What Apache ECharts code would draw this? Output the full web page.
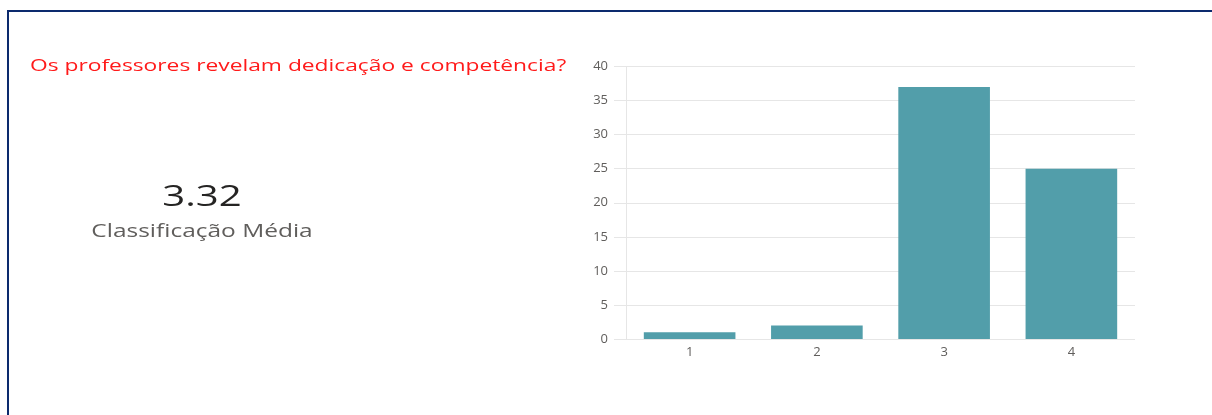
<!DOCTYPE html>
<html><head><meta charset="utf-8">
<script src="https://cdn.jsdelivr.net/npm/echarts@6/dist/echarts.min.js"></script>
<style>html,body{margin:0;padding:0;background:#fff;}#c{width:1212px;height:415px;}</style>
</head><body><div id="c"></div>
<script>
const question = "Os professores revelam dedicação e competência?";
const averageValue = "3.32";
const averageLabel = "Classificação Média";
const categories = ["1", "2", "3", "4"];
const counts = [1, 2, 37, 25];
const yTicks = [0, 5, 10, 15, 20, 25, 30, 35, 40];

const stretch = 1.34;
const chart = echarts.init(document.getElementById('c'));
chart.setOption({
  animation: false,
  backgroundColor: '#ffffff',
  graphic: [
    { type: 'line', shape: { x1: 8, y1: 11, x2: 1212, y2: 11 }, style: { stroke: '#0c2a6d', lineWidth: 2 } },
    { type: 'line', shape: { x1: 8, y1: 10, x2: 8, y2: 415 }, style: { stroke: '#0c2a6d', lineWidth: 2 } },
    { type: 'text', x: 30, y: 66, scaleX: stretch,
      style: { text: question, fill: '#ff1a1a', font: '17px "Open Sans"', textAlign: 'left', textVerticalAlign: 'middle' } },
    { type: 'text', x: 202, y: 197, scaleX: stretch,
      style: { text: averageValue, fill: '#252423', font: '30px "Open Sans"', textAlign: 'center', textVerticalAlign: 'middle' } },
    { type: 'text', x: 202, y: 232, scaleX: 1.36,
      style: { text: averageLabel, fill: '#605e5c', font: '18px "Open Sans"', textAlign: 'center', textVerticalAlign: 'middle' } }
  ],
  grid: { left: 626, right: 77, top: 66.5, bottom: 76, containLabel: false },
  xAxis: {
    type: 'category', data: categories,
    axisLine: { show: false }, axisTick: { show: false },
    axisLabel: { color: '#605e5c', fontSize: 13, fontFamily: 'Open Sans', margin: 7 }
  },
  yAxis: {
    type: 'value', min: yTicks[0], max: yTicks[yTicks.length - 1], interval: 5,
    axisLine: { show: true, lineStyle: { color: '#e6e6e6' } },
    axisTick: { show: true, length: 12, lineStyle: { color: '#e6e6e6' } },
    splitLine: { lineStyle: { color: '#e6e6e6' } },
    axisLabel: { color: '#605e5c', fontSize: 13, fontFamily: 'Open Sans', margin: 18 }
  },
  series: [{
    type: 'bar', data: counts, barCategoryGap: '28%',
    itemStyle: { color: '#529eaa' }
  }]
});
</script></body></html>
